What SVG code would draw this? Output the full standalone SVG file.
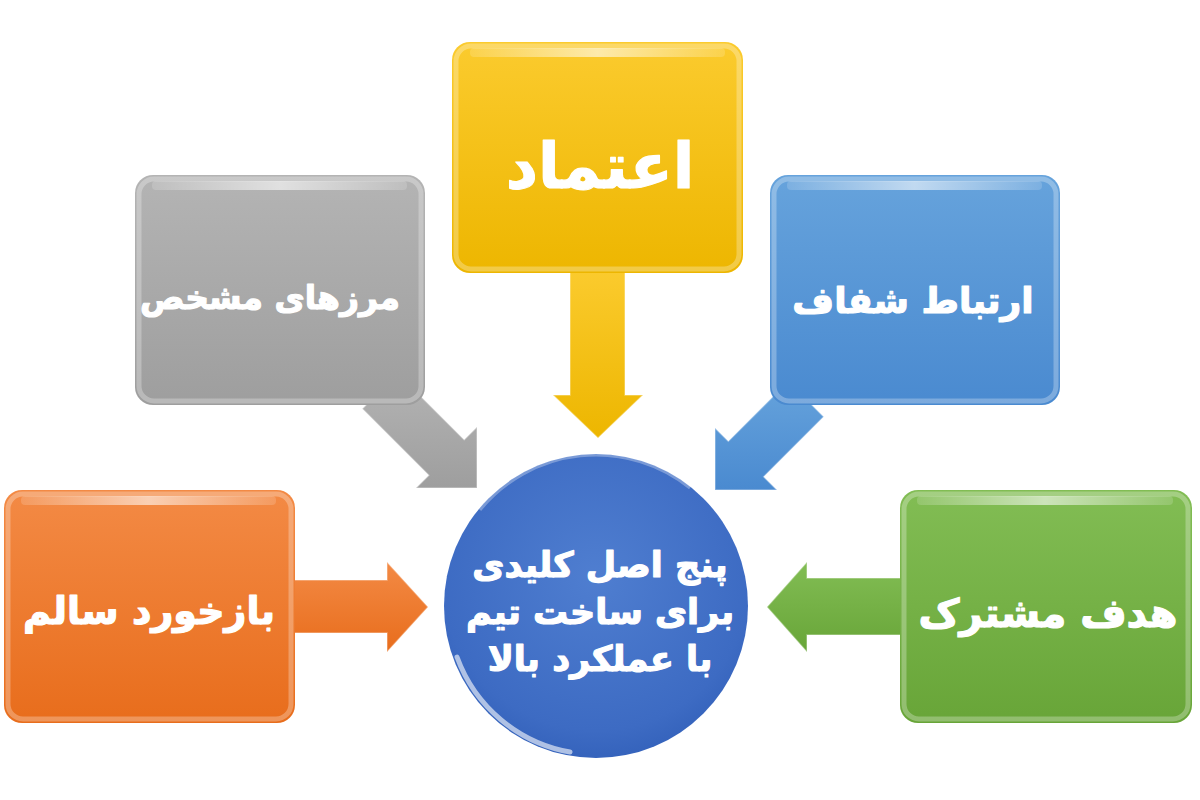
<svg xmlns="http://www.w3.org/2000/svg" width="1200" height="800" viewBox="0 0 1200 800">
<defs>
<linearGradient id="gY" x1="0" y1="0" x2="0" y2="1"><stop offset="0" stop-color="#FBCB2E"/><stop offset="1" stop-color="#EDB600"/></linearGradient>
<linearGradient id="gG" x1="0" y1="0" x2="0" y2="1"><stop offset="0" stop-color="#B4B4B4"/><stop offset="1" stop-color="#9E9E9E"/></linearGradient>
<linearGradient id="gB" x1="0" y1="0" x2="0" y2="1"><stop offset="0" stop-color="#66A3DC"/><stop offset="1" stop-color="#4A8AD0"/></linearGradient>
<linearGradient id="gO" x1="0" y1="0" x2="0" y2="1"><stop offset="0" stop-color="#F38A45"/><stop offset="1" stop-color="#E86D1C"/></linearGradient>
<linearGradient id="gGr" x1="0" y1="0" x2="0" y2="1"><stop offset="0" stop-color="#82BD54"/><stop offset="1" stop-color="#68A538"/></linearGradient>
<radialGradient id="gC" cx="0.5" cy="0.4" r="0.6"><stop offset="0" stop-color="#4F7ED0"/><stop offset="0.85" stop-color="#3D6BC3"/><stop offset="1" stop-color="#3563BC"/></radialGradient>
<linearGradient id="shine" x1="0" y1="0" x2="1" y2="0"><stop offset="0" stop-color="#fff" stop-opacity="0.15"/><stop offset="0.5" stop-color="#fff" stop-opacity="0.6"/><stop offset="1" stop-color="#fff" stop-opacity="0.15"/></linearGradient>
</defs>
<style>
.box{stroke:none}
.rim{fill:none;stroke:#fff;stroke-opacity:0.28;stroke-width:5}
.top{fill:url(#shine)}
.lbl{font-family:"DejaVu Sans","Noto Sans",sans-serif;font-weight:bold;fill:#fff;stroke:#fff;stroke-width:1.2;stroke-linejoin:round;text-anchor:middle}
.arr{stroke:#fff;stroke-opacity:0.35;stroke-width:1.5;stroke-linejoin:miter}
</style>
<rect width="1200" height="800" fill="#fff"/>
<g id="connectors">
<polygon class="arr" fill="url(#gY)" points="570,268 625,268 625,395 643,395 598,438 553,395 570,395"/>
<polygon class="arr" fill="url(#gG)" points="397.7,373.3 464.2,439.8 477,427 477,488 416,488 428.8,475.2 362.3,408.7"/>
<polygon class="arr" fill="url(#gB)" points="788.3,381.3 728.3,441.3 715,428 715,490 777,490 763.7,476.7 823.7,416.7"/>
<polygon class="arr" fill="url(#gO)" points="290,580 387,580 387,562 428,607 387,652 387,633 290,633"/>
<polygon class="arr" fill="url(#gGr)" points="905,578 807,578 807,562 767,607 807,652 807,635 905,635"/>
</g>
<g id="node-trust">
<rect class="box" x="452" y="42" width="291" height="231" rx="18" fill="url(#gY)"/>
<rect class="rim" x="456" y="46" width="283" height="223" rx="15"/>
<rect class="top" x="470" y="48" width="255" height="9" rx="4"/>
<text class="lbl" x="600" y="188" font-size="63">اعتماد</text>
</g>
<g id="node-boundaries">
<rect class="box" x="135" y="175" width="290" height="230" rx="18" fill="url(#gG)"/>
<rect class="rim" x="139" y="179" width="282" height="222" rx="15"/>
<rect class="top" x="152" y="181" width="255" height="9" rx="4"/>
<text class="lbl" x="270" y="309" font-size="33">مرزهای مشخص</text>
</g>
<g id="node-communication">
<rect class="box" x="770" y="175" width="290" height="230" rx="18" fill="url(#gB)"/>
<rect class="rim" x="774" y="179" width="282" height="222" rx="15"/>
<rect class="top" x="787" y="181" width="255" height="9" rx="4"/>
<text class="lbl" x="913" y="313" font-size="36">ارتباط شفاف</text>
</g>
<g id="node-feedback">
<rect class="box" x="4" y="490" width="291" height="233" rx="18" fill="url(#gO)"/>
<rect class="rim" x="8" y="494" width="283" height="225" rx="15"/>
<rect class="top" x="21" y="496" width="255" height="9" rx="4"/>
<text class="lbl" x="149" y="624" font-size="38">بازخورد سالم</text>
</g>
<g id="node-goal">
<rect class="box" x="900" y="490" width="292" height="233" rx="18" fill="url(#gGr)"/>
<rect class="rim" x="904" y="494" width="284" height="225" rx="15"/>
<rect class="top" x="917" y="496" width="256" height="9" rx="4"/>
<text class="lbl" x="1048" y="627" font-size="40">هدف مشترک</text>
</g>
<g id="node-center">
<circle cx="596" cy="606" r="152" fill="url(#gC)"/>
<path d="M480,510 A150,150 0 0 1 690,488" fill="none" stroke="#fff" stroke-opacity="0.3" stroke-width="3"/>
<path d="M457,657 A148,148 0 0 0 570,752" fill="none" stroke="#fff" stroke-opacity="0.6" stroke-width="5" stroke-linecap="round"/>
<text class="lbl" x="600" y="577" font-size="35">پنج اصل کلیدی</text>
<text class="lbl" x="600" y="624" font-size="35">برای ساخت تیم</text>
<text class="lbl" x="600" y="671" font-size="35">با عملکرد بالا</text>
</g>
</svg>
